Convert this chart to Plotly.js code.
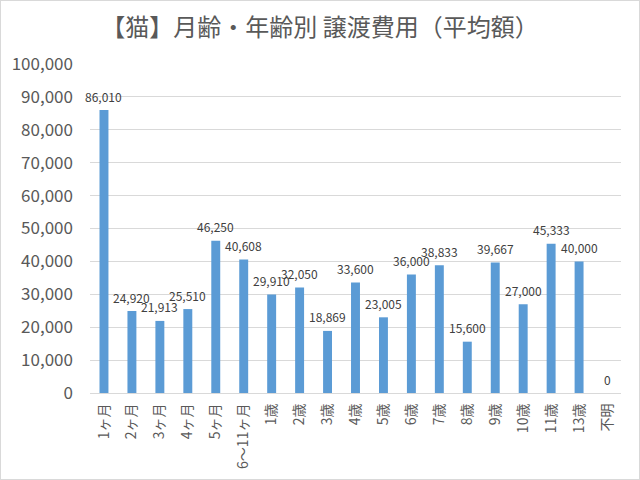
<!DOCTYPE html>
<html>
<head>
<meta charset="utf-8">
<script src="https://cdn.plot.ly/plotly-3.0.1.min.js"></script>
<style>
html,body{margin:0;padding:0;background:#fff;}
#chart{width:640px;height:480px;box-sizing:border-box;border:1px solid #d9d9d9;}
</style>
</head>
<body>
<div id="chart"></div>
<script>
const categories = ["1ヶ月","2ヶ月","3ヶ月","4ヶ月","5ヶ月","6〜11ヶ月","1歳","2歳","3歳","4歳","5歳","6歳","7歳","8歳","9歳","10歳","11歳","13歳","不明"];
const values = [86010,24920,21913,25510,46250,40608,29910,32050,18869,33600,23005,36000,38833,15600,39667,27000,45333,40000,0];
const yTickVals = [0,10000,20000,30000,40000,50000,60000,70000,80000,90000,100000];
const yTickText = ["0","10,000","20,000","30,000","40,000","50,000","60,000","70,000","80,000","90,000","100,000"];

const FONT = '"Noto Sans CJK JP", "Noto Sans", sans-serif';

const bars = {
  type: 'bar',
  x: categories,
  y: values,
  marker: {color: '#5B9BD5'},
  hoverinfo: 'x+y'
};

const labelAnnotations = categories.map((c, i) => ({
  x: c,
  y: values[i],
  xref: 'x', yref: 'y',
  text: values[i].toLocaleString('en-US'),
  showarrow: false,
  xanchor: 'center',
  yanchor: 'middle',
  yshift: 14,
  font: {family: FONT, size: 12, color: '#404040'}
}));

const layout = {
  width: 638, height: 478,
  margin: {l: 89, r: 18, t: 63, b: 86},
  paper_bgcolor: '#ffffff',
  plot_bgcolor: '#ffffff',
  showlegend: false,
  bargap: 0.68,
  annotations: labelAnnotations,
  title: {
    text: '【猫】月齢・年齢別 譲渡費用（平均額）',
    x: 0.5, xanchor: 'center', y: 0.945, yanchor: 'middle',
    font: {family: FONT, size: 24, color: '#595959'}
  },
  xaxis: {
    type: 'category',
    range: [-0.5, categories.length - 0.5],
    tickangle: -90,
    tickfont: {family: FONT, size: 14, color: '#595959'},
    ticklabelstandoff: 4,
    showline: true, linecolor: '#d9d9d9', linewidth: 1,
    ticks: '', showgrid: false,
    fixedrange: true
  },
  yaxis: {
    range: [0, 100000],
    tickvals: yTickVals,
    ticktext: yTickText,
    tickfont: {family: FONT, size: 17, color: '#595959'},
    showgrid: true, gridcolor: '#d9d9d9', gridwidth: 1,
    zeroline: false, showline: false, ticks: '',
    ticklabelstandoff: 16,
    fixedrange: true
  }
};

Plotly.newPlot('chart', [bars], layout, {displayModeBar: false, staticPlot: true});
</script>
</body>
</html>
